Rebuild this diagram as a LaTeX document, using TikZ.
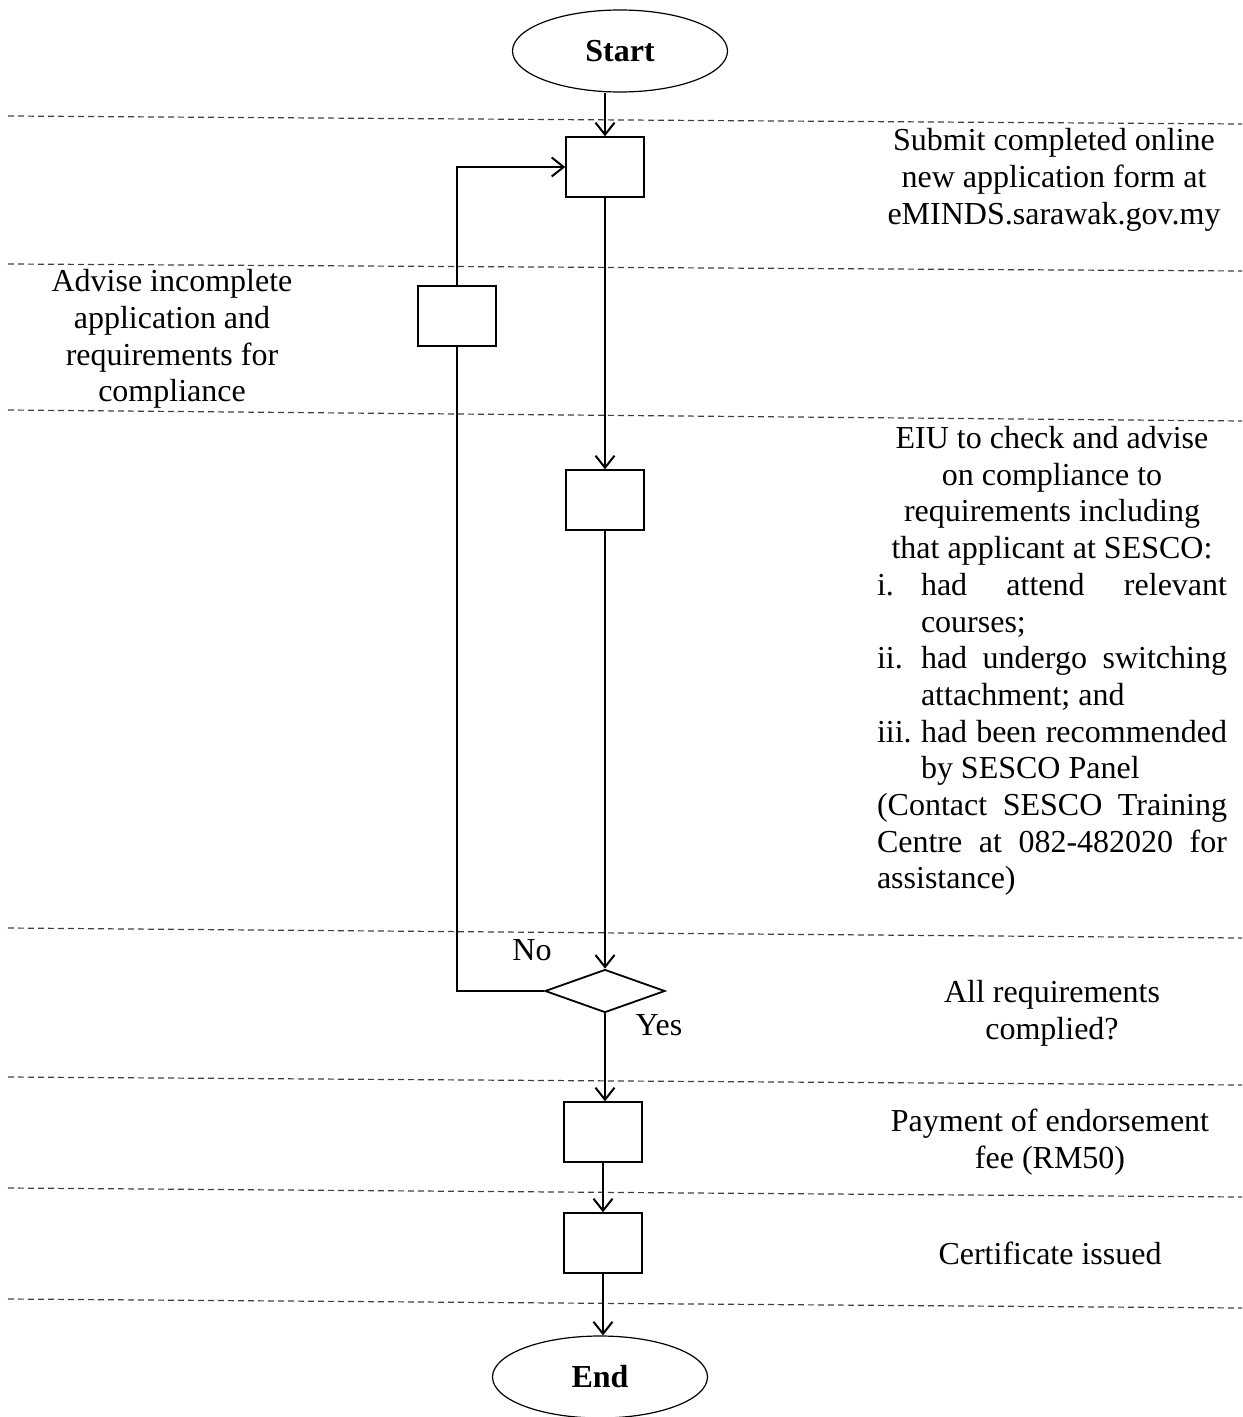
\documentclass[tikz,border=0pt]{standalone}
\usepackage{fontspec}
\setmainfont{Liberation Serif}
\usetikzlibrary{shapes.geometric,arrows.meta}
\newcommand{\lstitem}[2]{\makebox[22pt][l]{#1}\makebox[153pt][s]{#2}}
\newcommand{\lstrest}[1]{\makebox[22pt]{}\makebox[153pt][l]{#1}}
\newcommand{\fullrow}[1]{\makebox[175pt][s]{#1}}
\newcommand{\leftrow}[1]{\makebox[175pt][l]{#1}}
\begin{document}
\begin{tikzpicture}
[
  x = 0.5pt, y = -0.5pt,
  terminal/.style = {shape=ellipse, draw, line width=0.6pt,
                     minimum width=107.5pt, minimum height=41pt, inner sep=0pt,
                     font=\fontsize{16}{18.35}\selectfont\bfseries},
  process/.style  = {shape=rectangle, draw, line width=0.7pt,
                     minimum width=39pt, minimum height=30pt},
  decision/.style = {shape=diamond, draw, line width=0.9pt, aspect=2.8,
                     minimum width=60pt, minimum height=21.5pt, inner sep=0pt},
  note/.style     = {align=center, inner sep=0pt,
                     font=\fontsize{16}{18.35}\selectfont},
  flow/.style     = {draw, line width=1pt, -{Straight Barb[length=6pt,width=9.5pt]}},
  lane/.style     = {draw=black!75, line width=0.6pt, dash pattern=on 3pt off 2pt}
]
\useasboundingbox (0,0) rectangle (1242,1417);

\foreach \l/\r in {116/124, 264/271, 410/421, 928/938, 1077/1085, 1188/1197, 1299/1308}
  \draw [lane] (8,\l) -- (1242,\r);

\node [terminal] (start) at (620,51)   {Start};
\node [process]  (submit) at (605,167) {};
\node [process]  (advise) at (457,316) {};
\node [process]  (check) at (605,500)  {};
\node [decision] (query) at (605,991)  {};
\node [process]  (pay) at (603,1132)   {};
\node [process]  (cert) at (603,1243)  {};
\node [terminal] (end) at (600,1377)   {End};

\node [note] (no)  at (532,950)  {No};
\node [note] (yes) at (659,1025) {Yes};

\node [note] (submittext) at (1054,180)
  {Submit completed online\\ new application form at\\ eMINDS.sarawak.gov.my};
\node [note] (advisetext) at (172,339)
  {Advise incomplete\\ application and\\ requirements for\\ compliance};
\node [note] (checktext) at (1052,661)
  {EIU to check and advise\\ on compliance to\\ requirements including\\
   that applicant at SESCO:\\
   \lstitem{i.}{had attend relevant}\\
   \lstrest{courses;}\\
   \lstitem{ii.}{had undergo switching}\\
   \lstrest{attachment; and}\\
   \lstitem{iii.}{had been recommended}\\
   \lstrest{by SESCO Panel}\\
   \fullrow{(Contact SESCO Training}\\
   \fullrow{Centre at 082-482020 for}\\
   \leftrow{assistance)}};
\node [note] (querytext) at (1052,1013) {All requirements\\ complied?};
\node [note] (paytext) at (1050,1142)   {Payment of endorsement\\ fee (RM50)};
\node [note] (certtext) at (1050,1253)  {Certificate issued};

\draw [flow] (start.south -| submit) -- (submit.north);
\draw [flow] (submit) -- (check);
\draw [flow] (check) -- (query);
\draw [line width=1pt] (query.west) -| (advise.south);
\draw [flow] (advise.north) |- (submit.west);
\draw [flow] (query.south) -- (query.south |- pay.north);
\draw [flow] (pay) -- (cert);
\draw [flow] (cert.south) -- (cert.south |- end.north);
\end{tikzpicture}
\end{document}
